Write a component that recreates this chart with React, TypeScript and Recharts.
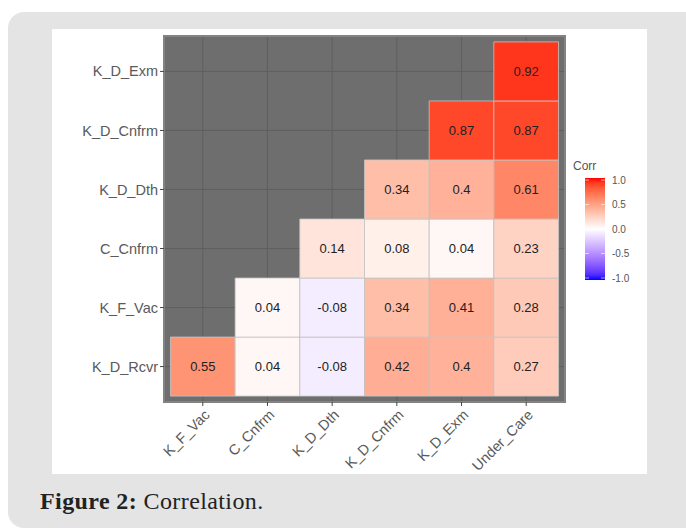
import React from "react";
import { ScatterChart, Scatter, XAxis, YAxis, CartesianGrid, ReferenceArea } from "recharts";

// columns left -> right
const colNames = ["K_F_Vac", "C_Cnfrm", "K_D_Dth", "K_D_Cnfrm", "K_D_Exm", "Under_Care"];
// rows bottom -> top
const rowNames = ["K_D_Rcvr", "K_F_Vac", "C_Cnfrm", "K_D_Dth", "K_D_Cnfrm", "K_D_Exm"];

// correlation values per row, aligned with colNames (null = hidden half)
const rowKDRcvr = [0.55, 0.04, -0.08, 0.42, 0.4, 0.27];
const rowKFVac = [null, 0.04, -0.08, 0.34, 0.41, 0.28];
const rowCCnfrm = [null, null, 0.14, 0.08, 0.04, 0.23];
const rowKDDth = [null, null, null, 0.34, 0.4, 0.61];
const rowKDCnfrm = [null, null, null, null, 0.87, 0.87];
const rowKDExm = [null, null, null, null, null, 0.92];

const legendTicks = [1.0, 0.5, 0.0, -0.5, -1.0];

const rows = [rowKDRcvr, rowKFVac, rowCCnfrm, rowKDDth, rowKDCnfrm, rowKDExm];

type Cell = { x: number; y: number; v: number };
const cells: Cell[] = [];
rows.forEach((r, ri) =>
  r.forEach((v, ci) => {
    if (v !== null) cells.push({ x: ci + 1, y: ri + 1, v: v as number });
  })
);

// gradient2 low=blue mid=white high=red, interpolated in Lab like ggplot
const RED = [53.24, 80.09, 67.2];
const BLUE = [32.3, 79.19, -107.86];
const WHITE = [100, 0, 0];

function labToHex(L: number, a: number, b: number) {
  const fy = (L + 16) / 116;
  const fx = fy + a / 500;
  const fz = fy - b / 200;
  const inv = (t: number) => (t > 0.206893 ? t * t * t : (t - 16 / 116) / 7.787);
  const X = 0.95047 * inv(fx);
  const Y = 1.0 * inv(fy);
  const Z = 1.08883 * inv(fz);
  const lin = [
    3.2406 * X - 1.5372 * Y - 0.4986 * Z,
    -0.9689 * X + 1.8758 * Y + 0.0415 * Z,
    0.0557 * X - 0.204 * Y + 1.057 * Z,
  ];
  return (
    "#" +
    lin
      .map((c) => {
        const g = c > 0.0031308 ? 1.055 * Math.pow(c, 1 / 2.4) - 0.055 : 12.92 * c;
        const n = Math.round(Math.min(1, Math.max(0, g)) * 255);
        return n.toString(16).padStart(2, "0");
      })
      .join("")
  );
}

function corrColor(v: number) {
  const end = v >= 0 ? RED : BLUE;
  const t = Math.min(1, Math.abs(v));
  return labToHex(
    WHITE[0] + (end[0] - WHITE[0]) * t,
    WHITE[1] + (end[1] - WHITE[1]) * t,
    WHITE[2] + (end[2] - WHITE[2]) * t
  );
}

const font = "'Liberation Sans', Arial, sans-serif";

const YTick = (props: any) => {
  const { x, y, payload } = props;
  return (
    <text x={x} y={y} dy="0.35em" textAnchor="end" fill="#5a5a5a" fontSize={14.5} fontFamily={font}>
      {rowNames[payload.value - 1]}
    </text>
  );
};

const XTick = (props: any) => {
  const { x, y, payload } = props;
  return (
    <g transform={`translate(${x},${y})`}>
      <text x={0} y={0} dy={11} textAnchor="end" transform="rotate(-45)" fill="#5a5a5a" fontSize={14.5} fontFamily={font}>
        {colNames[payload.value - 1]}
      </text>
    </g>
  );
};

const CellText = (props: any) => {
  const { cx, cy, payload } = props;
  return (
    <text x={cx} y={cy} dy="0.35em" textAnchor="middle" fill="#222" fontSize={13} fontFamily={font}>
      {String(payload.v)}
    </text>
  );
};

function Legend() {
  const stops = [];
  for (let i = 0; i <= 20; i++) {
    const v = 1 - i / 10;
    stops.push(<stop key={i} offset={`${(i / 20) * 100}%`} stopColor={corrColor(v)} />);
  }
  const top = 180;
  const bottom = 278;
  return (
    <svg width={686} height={529} style={{ position: "absolute", left: 0, top: 0, pointerEvents: "none" }}>
      <defs>
        <linearGradient id="corrGrad" x1="0" y1="0" x2="0" y2="1">
          {stops}
        </linearGradient>
      </defs>
      <text x={573} y={170} fill="#555" fontSize={12} fontFamily={font}>
        Corr
      </text>
      <rect x={585} y={top - 2} width={20} height={bottom - top + 4} fill="url(#corrGrad)" />
      {legendTicks.map((t) => {
        const yy = top + ((1 - t) / 2) * (bottom - top);
        return (
          <g key={t}>
            <line x1={585} x2={589} y1={yy} y2={yy} stroke="#fff" strokeOpacity={0.6} />
            <line x1={601} x2={605} y1={yy} y2={yy} stroke="#fff" strokeOpacity={0.6} />
            <text x={612} y={yy} dy="0.35em" fill="#555" fontSize={10} fontFamily={font}>
              {t.toFixed(1)}
            </text>
          </g>
        );
      })}
    </svg>
  );
}

export default function App() {
  return (
    <div style={{ position: "absolute", left: 0, top: 0, width: 686, height: 529, background: "#fff", overflow: "hidden" }}>
      <div style={{ position: "absolute", left: 8, top: 12, width: 720, height: 516, background: "#e4e4e4", borderRadius: 16 }} />
      <div style={{ position: "absolute", left: 52, top: 29, width: 595, height: 445, background: "#fff" }} />
      <div style={{ position: "absolute", left: 0, top: 0 }}>
        <ScatterChart width={686} height={529} margin={{ top: 36, right: 121, bottom: 57, left: 54 }}>
          <CartesianGrid fill="#6e6e6e" fillOpacity={1} stroke="#5f5f5f" strokeWidth={1} />
          <XAxis
            type="number"
            dataKey="x"
            domain={[0.4, 6.6]}
            ticks={[1, 2, 3, 4, 5, 6]}
            allowDataOverflow
            height={70}
            axisLine={false}
            tickLine={{ stroke: "#444" }}
            tickSize={4}
            tickMargin={2}
            interval={0}
            tick={<XTick />}
          />
          <YAxis
            type="number"
            dataKey="y"
            domain={[0.4, 6.6]}
            ticks={[1, 2, 3, 4, 5, 6]}
            allowDataOverflow
            width={110}
            axisLine={false}
            tickLine={{ stroke: "#444" }}
            tickSize={4}
            tickMargin={2}
            interval={0}
            tick={<YTick />}
          />
          {cells.map((c, i) => (
            <ReferenceArea
              key={i}
              x1={c.x - 0.5}
              x2={c.x + 0.5}
              y1={c.y - 0.5}
              y2={c.y + 0.5}
              fill={corrColor(c.v)}
              fillOpacity={1}
              stroke="#c4c4c4"
              strokeWidth={0.8}
              ifOverflow="visible"
            />
          ))}
          <ReferenceArea x1={0.4} x2={6.6} y1={0.4} y2={6.6} fill="none" stroke="#838383" strokeWidth={2} ifOverflow="visible" />
          <Scatter data={cells} shape={<CellText />} isAnimationActive={false} />
        </ScatterChart>
      </div>
      <Legend />
      <div
        style={{
          position: "absolute",
          left: 40,
          top: 488,
          fontFamily: "'Liberation Serif', 'Times New Roman', serif",
          fontSize: 24,
          letterSpacing: 0.4,
          lineHeight: "26px",
          color: "#222",
          whiteSpace: "nowrap",
        }}
      >
        <b>Figure 2:</b> Correlation.
      </div>
    </div>
  );
}
